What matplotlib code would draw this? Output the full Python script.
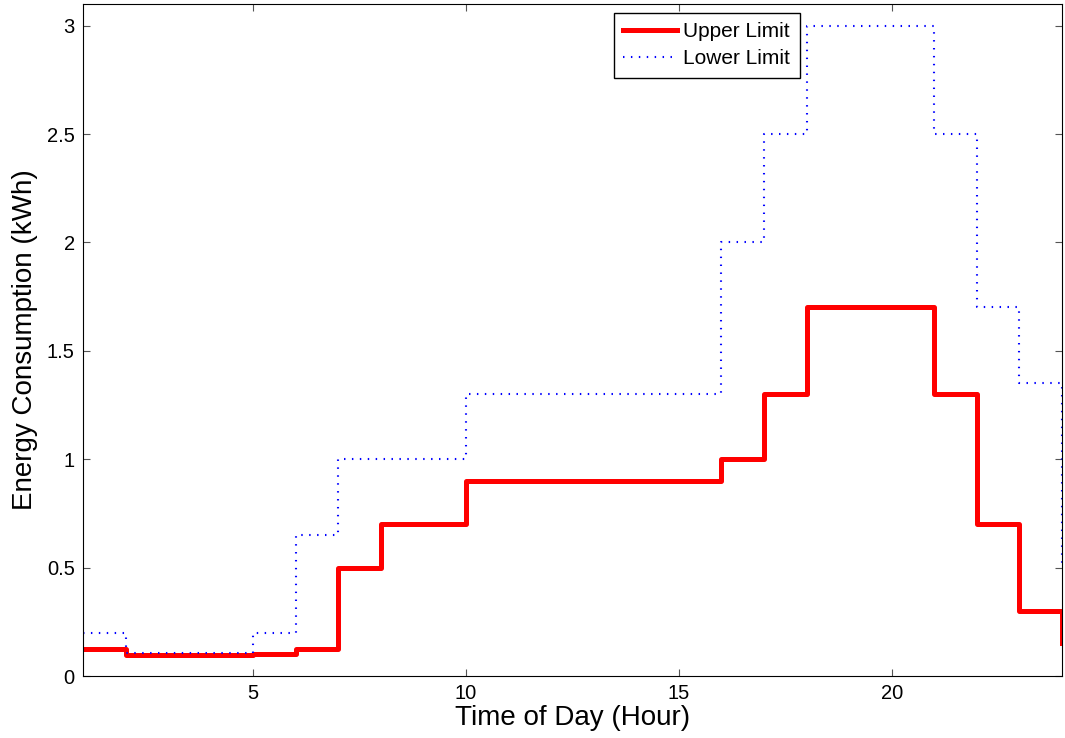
import matplotlib.pyplot as plt

plt.rcParams['font.family'] = ['Liberation Sans', 'DejaVu Sans']

hours = list(range(1, 25))
upper = [0.125, 0.095, 0.095, 0.095, 0.1, 0.125, 0.5, 0.7, 0.7, 0.9, 0.9, 0.9,
         0.9, 0.9, 0.9, 1.0, 1.3, 1.7, 1.7, 1.7, 1.3, 0.7, 0.3, 0.15]
lower = [0.2, 0.105, 0.105, 0.105, 0.2, 0.65, 1.0, 1.0, 1.0, 1.3, 1.3, 1.3,
         1.3, 1.3, 1.3, 2.0, 2.5, 3.0, 3.0, 3.0, 2.5, 1.7, 1.35, 0.5]
yticks = [0, 0.5, 1, 1.5, 2, 2.5, 3]
xticks = [5, 10, 15, 20]

fig = plt.figure(figsize=(10.65, 7.38), dpi=100)
ax = fig.add_axes([83/1065, 1 - 676/738, (1062-83)/1065, (676-4)/738])

ax.step(hours, upper, where='post', color='red', lw=3.6, label='Upper Limit')
ax.step(hours, lower, where='post', color='blue', lw=1.5, ls=(0, (0.7, 3.1)),
        label='Lower Limit')

ax.set_xlim(1, 24)
ax.set_ylim(0, 3.1)
ax.set_xticks(xticks)
ax.set_yticks(yticks)
ax.set_yticklabels(['0', '0.5', '1', '1.5', '2', '2.5', '3'])
ax.tick_params(direction='in', top=True, right=True, labelsize=14.5, length=5, pad=6,
               color='#555555')
ax.set_xlabel('Time of Day (Hour)', fontsize=20, labelpad=1)
ax.set_ylabel('Energy Consumption (kWh)', fontsize=20, labelpad=6)

leg = ax.legend(loc='upper right', bbox_to_anchor=(0.732, 0.987), fontsize=15,
                fancybox=False, edgecolor='black', framealpha=1,
                handlelength=2.6, borderpad=0.45, labelspacing=0.4, handletextpad=0.3,
                borderaxespad=0)
leg.get_frame().set_linewidth(1.0)

fig.savefig('out.png', dpi=100)
